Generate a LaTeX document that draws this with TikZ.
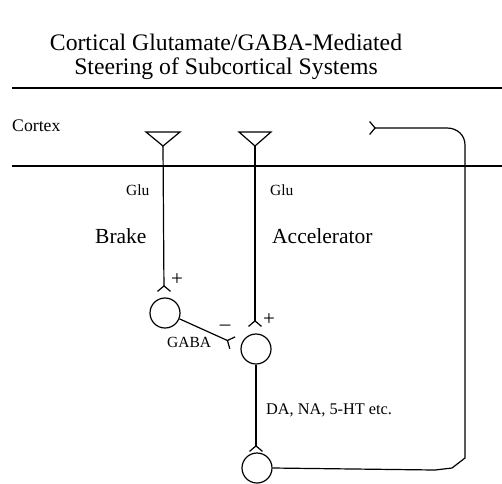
\documentclass[tikz,border=0pt]{standalone}
\usepackage{fontspec}
\setmainfont{Liberation Serif}
\usetikzlibrary{arrows.meta}
\begin{document}
\begin{tikzpicture}[x=1pt,y=-1pt,
  layer/.style={line width=1.8pt},
  axon/.style={line width=1.2pt},
  syn/.style={line width=1.2pt,-{Straight Barb[reversed,length=5.5pt,width=13pt,line width=1.2pt]}},
  soma/.style={circle,draw,line width=1.2pt,minimum size=30pt,inner sep=0pt},
  lbl/.style={inner sep=0pt,anchor=west},
  sign/.style={inner sep=0pt,font=\fontsize{21}{21}\selectfont}]
\useasboundingbox (0,0) rectangle (502,483);
% title
\node[inner sep=0pt,align=center,font=\fontsize{23.7}{24}\selectfont] (title) at (226,57)
  {Cortical Glutamate/GABA-Mediated\\Steering of Subcortical Systems};
% cortex layer
\coordinate (l1a) at (12,88); \coordinate (l1b) at (502,88);
\coordinate (l2a) at (12,166); \coordinate (l2b) at (502,166);
\draw[layer] (l1a) -- (l1b);
\draw[layer] (l2a) -- (l2b);
\node[lbl,font=\fontsize{17.7}{18}\selectfont] (cortex) at (12,126) {Cortex};
% pyramidal cells
\coordinate (t1) at (163,146);
\coordinate (t2) at (255,146);
\draw[axon] (t1) -- ++(-17,-14) -- ++(34,0) -- cycle;
\draw[axon] (t2) -- ++(-16,-14) -- ++(32,0) -- cycle;
% somata
\node[soma] (c1) at (165,313) {};
\node[soma] (c2) at (256,349) {};
\node[soma] (c3) at (257,468) {};
% terminals
\coordinate (f1) at (164,292);
\coordinate (f2) at (255,327);
\coordinate (f3) at (256,452);
\coordinate (f4) at (233,343);
\coordinate (f5) at (369,128);
\draw[syn] (t1) -- (f1);
\draw[syn] (t2) -- (f2);
\draw[syn] (c2.south) -- (f3);
\draw[syn] (c1.-22) -- (f4);
\coordinate (p1) at (435,470);
\coordinate (p2) at (452,468);
\coordinate (p3) at (465,458);
\coordinate (p4) at (465,145);
\coordinate (p5) at (447,128);
\draw[syn] (c3.east) -- (p1) -- (p2) -- (p3) -- (p4)
  .. controls (465,135) and (457,128) .. (p5) -- (f5);
% labels
\node[lbl,font=\fontsize{15.5}{16}\selectfont] (glu1) at (126,190) {Glu};
\node[lbl,font=\fontsize{15.5}{16}\selectfont] (glu2) at (270,190) {Glu};
\node[lbl,font=\fontsize{21.5}{22}\selectfont] (brake) at (95,236) {Brake};
\node[lbl,font=\fontsize{21.5}{22}\selectfont] (accel) at (272,236) {Accelerator};
\node[lbl,font=\fontsize{15.5}{16}\selectfont] (gaba) at (167,342) {GABA};
\node[lbl,font=\fontsize{16.3}{17}\selectfont] (mono) at (266,410) {DA, NA, 5-HT etc.};
\node[sign] (plus1) at (177,280) {+};
\node[sign] (plus2) at (269,320) {+};
\node[sign] (minus) at (225,328) {\textendash};
\end{tikzpicture}
\end{document}
